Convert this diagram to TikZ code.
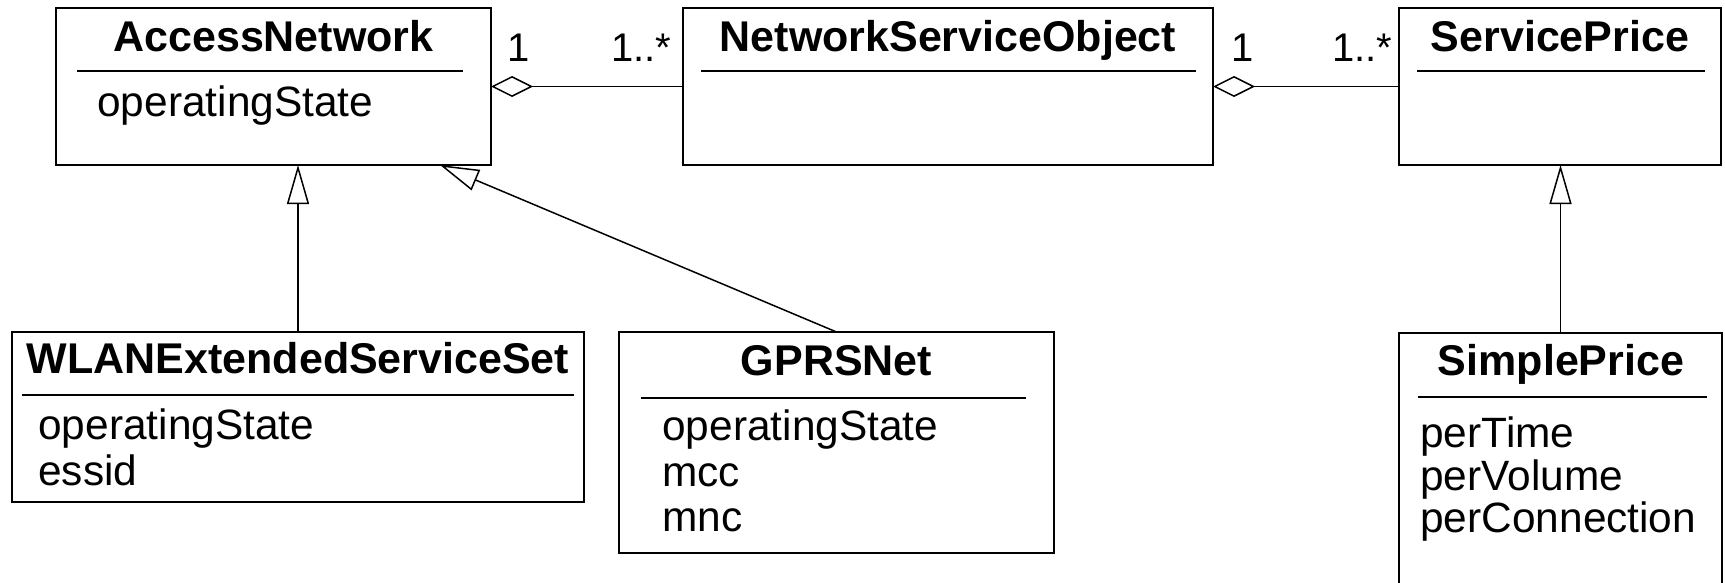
\documentclass[tikz,border=0pt]{standalone}
\usepackage{fontspec}
\setmainfont{Liberation Sans}
\usetikzlibrary{arrows.meta}
\tikzset{
  cls/.style={draw, line width=1pt, inner sep=0pt, outer sep=0pt, anchor=north west, fill=white},
  ttl/.style={inner sep=0pt, anchor=base, font=\bfseries\fontsize{21.5}{26}\selectfont},
  attr/.style={inner sep=0pt, anchor=base west, align=left, font=\fontsize{21.2}{22.5}\selectfont},
  mult/.style={inner sep=0pt, anchor=base west, font=\fontsize{20}{24}\selectfont},
  sepline/.style={line width=0.7pt},
  agg/.style={line width=0.75pt, {Diamond[open, fill=white, length=21pt, width=10.5pt]}-},
  gen/.style={line width=0.75pt, -{Triangle[open, fill=white, length=19.5pt, width=11pt]}}
}
\begin{document}
\begin{tikzpicture}[x=0.5pt,y=-0.5pt]
\useasboundingbox (0,0) rectangle (1725,583);
% class boxes
\node[cls, minimum width=217.5pt, minimum height=78.5pt] (an) at (56,8) {};
\node[cls, minimum width=265pt, minimum height=78.5pt] (nso) at (683,8) {};
\node[cls, minimum width=161pt, minimum height=78.5pt] (sp) at (1399,8) {};
\node[cls, minimum width=286pt, minimum height=85pt] (wlan) at (12,332) {};
\node[cls, minimum width=217.5pt, minimum height=110.5pt] (gprs) at (619,332) {};
\node[cls, minimum width=161.5pt, minimum height=140pt] (simple) at (1399,333) {};
% titles
\node[ttl] (anT) at (273.5,52) {AccessNetwork};
\node[ttl] (nsoT) at (948,52) {NetworkServiceObject};
\node[ttl] (spT) at (1560,52) {ServicePrice};
\node[ttl] (wlanT) at (298,373) {WLANExtendedServiceSet};
\node[ttl] (gprsT) at (836.5,375) {GPRSNet};
\node[ttl] (simpleT) at (1561,375) {SimplePrice};
% separators
\draw[sepline] (77,71) -- (463,71);
\draw[sepline] (701,71) -- (1196,71);
\draw[sepline] (1417,71) -- (1705,71);
\draw[sepline] (22,395) -- (574,395);
\draw[sepline] (641,398) -- (1026,398);
\draw[sepline] (1418,397) -- (1707,397);
% attributes
\node[attr] (anA1) at (97,117) {operatingState};
\node[attr] (wlanA1) at (38,439) {operatingState};
\node[attr] (wlanA2) at (38,485) {essid};
\node[attr] (gprsA1) at (662,440) {operatingState};
\node[attr] (gprsA2) at (662,486) {mcc};
\node[attr] (gprsA3) at (662,531) {mnc};
\node[attr] (simpleA1) at (1420,447) {perTime};
\node[attr] (simpleA2) at (1420,490) {perVolume};
\node[attr] (simpleA3) at (1420,532) {perConnection};
% multiplicities
\node[mult] (m1) at (507,62) {1};
\node[mult] (m2) at (611,62) {1..*};
\node[mult] (m3) at (1231,62) {1};
\node[mult] (m4) at (1332,62) {1..*};
% aggregations
\draw[agg] (an.east) -- (nso.west);
\draw[agg] (nso.east) -- (sp.west);
% generalizations
\coordinate (angen) at (440,165);
\draw[gen] (wlan.north) -- (wlan.north |- an.south);
\draw[gen] (gprs.north) -- (angen);
\draw[gen] (simple.north) -- (simple.north |- sp.south);
\end{tikzpicture}
\end{document}
